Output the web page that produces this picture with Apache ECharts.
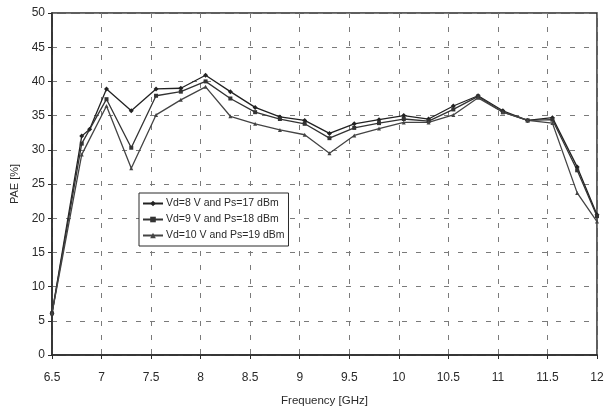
<!DOCTYPE html>
<html>
<head>
<meta charset="utf-8">
<script src="https://cdn.jsdelivr.net/npm/echarts@6/dist/echarts.min.js"></script>
<style>
  html, body { margin: 0; padding: 0; background: #fff; }
  #chart { width: 610px; height: 412px; }
</style>
</head>
<body>
<div id="chart"></div>
<script>
// Frequency points (GHz); the 8 V sweep has one extra point near 6.9 GHz
const freq8V = [6.5, 6.8, 6.88, 7.05, 7.3, 7.55, 7.8, 8.05, 8.3, 8.55, 8.8, 9.05, 9.3, 9.55, 9.8, 10.05, 10.3, 10.55, 10.8, 11.05, 11.3, 11.55, 11.8, 12];
const freqSweep = [6.5, 6.8, 7.05, 7.3, 7.55, 7.8, 8.05, 8.3, 8.55, 8.8, 9.05, 9.3, 9.55, 9.8, 10.05, 10.3, 10.55, 10.8, 11.05, 11.3, 11.55, 11.8, 12];

// PAE [%] per bias condition
const pae8V  = [6.1, 32.0, 33.0, 38.9, 35.7, 38.9, 39.0, 40.9, 38.5, 36.2, 34.8, 34.3, 32.4, 33.8, 34.4, 35.0, 34.5, 36.4, 37.9, 35.7, 34.3, 34.7, 27.5, 20.5];
const pae9V  = [6.1, 30.9, 37.4, 30.3, 37.9, 38.5, 40.0, 37.5, 35.5, 34.5, 33.8, 31.7, 33.2, 33.9, 34.5, 34.2, 35.9, 37.8, 35.5, 34.3, 34.4, 27.0, 20.3];
const pae10V = [6.1, 29.3, 36.4, 27.3, 35.1, 37.3, 39.2, 34.9, 33.8, 32.9, 32.2, 29.5, 32.1, 33.1, 34.0, 34.0, 35.1, 37.6, 35.5, 34.3, 33.9, 23.7, 19.5];

const seriesNames = ['Vd=8 V and Ps=17 dBm', 'Vd=9 V and Ps=18 dBm', 'Vd=10 V and Ps=19 dBm'];

const pairs = (xs, ys) => xs.map((x, i) => [x, ys[i]]);

const FONT = 'Liberation Sans, Arial, sans-serif';
const INK = '#2a2a2a';

function lineSeries(name, data, symbol, size, color) {
  return {
    name: name,
    type: 'line',
    data: data,
    symbol: symbol,
    symbolSize: size,
    lineStyle: { color: color, width: 1.3 },
    itemStyle: { color: color },
    emphasis: { disabled: true },
    animation: false
  };
}

const chart = echarts.init(document.getElementById('chart'), null, { renderer: 'canvas' });
chart.setOption({
  backgroundColor: '#ffffff',
  animation: false,
  grid: { left: 52, right: 13, top: 13, bottom: 57, show: true, borderColor: INK, borderWidth: 1.5 },
  legend: {
    orient: 'vertical',
    left: 139,
    top: 193,
    data: seriesNames,
    itemWidth: 20,
    itemHeight: 7,
    itemGap: 5,
    padding: [5, 4, 5, 3],
    borderColor: INK,
    borderWidth: 1,
    backgroundColor: '#fff',
    textStyle: { fontFamily: FONT, fontSize: 10.5, color: INK, padding: [0, 0, 0, -2] }
  },
  xAxis: {
    type: 'value',
    min: 6.5,
    max: 12,
    interval: 0.5,
    name: 'Frequency [GHz]',
    nameLocation: 'middle',
    nameGap: 40,
    nameTextStyle: { fontFamily: FONT, fontSize: 11.5, color: INK },
    axisLine: { show: true, onZero: false, lineStyle: { color: INK, width: 1.5 } },
    axisTick: { show: true, length: 4, lineStyle: { color: INK } },
    axisLabel: { fontFamily: FONT, fontSize: 12, color: INK, margin: 17 },
    splitLine: { show: true, lineStyle: { color: '#7a7a7a', type: [5, 9], width: 1 } }
  },
  yAxis: {
    type: 'value',
    min: 0,
    max: 50,
    interval: 5,
    name: 'PAE [%]',
    nameLocation: 'middle',
    nameGap: 30,
    nameRotate: 90,
    nameTextStyle: { fontFamily: FONT, fontSize: 11, color: INK },
    axisLine: { show: true, lineStyle: { color: INK, width: 1.5 } },
    axisTick: { show: true, length: 4, lineStyle: { color: INK } },
    axisLabel: { fontFamily: FONT, fontSize: 12, color: INK, margin: 7 },
    splitLine: { show: true, lineStyle: { color: '#7a7a7a', type: [5, 9], width: 1 } }
  },
  series: [
    lineSeries(seriesNames[0], pairs(freq8V, pae8V), 'diamond', 5, '#222'),
    lineSeries(seriesNames[1], pairs(freqSweep, pae9V), 'rect', 4, '#333'),
    lineSeries(seriesNames[2], pairs(freqSweep, pae10V), 'triangle', 4, '#444')
  ]
});
</script>
</body>
</html>
